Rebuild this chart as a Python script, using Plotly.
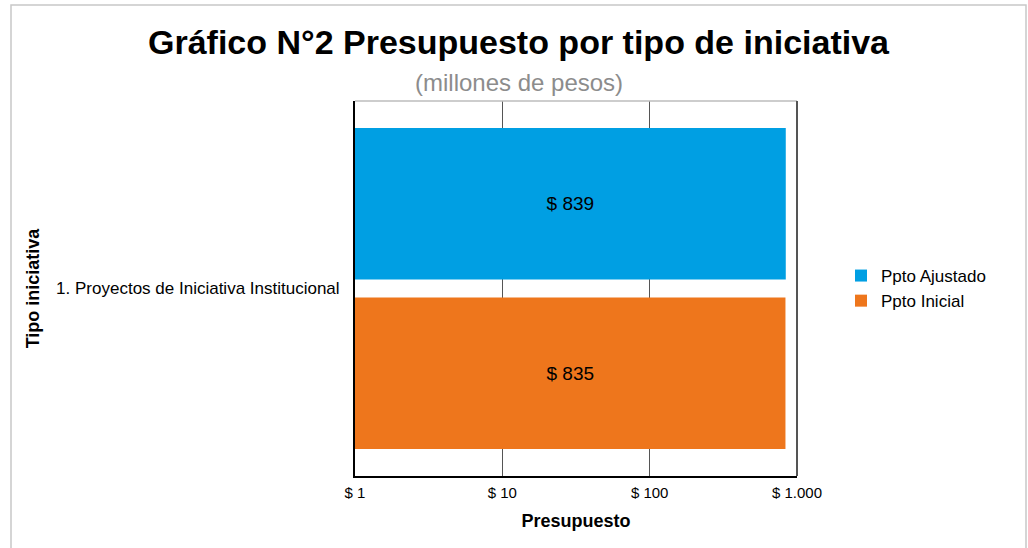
import plotly.graph_objects as go

# Data
categories = ["1. Proyectos de Iniciativa Institucional"]
series_names = ["Ppto Inicial", "Ppto Ajustado"]
ppto_inicial = [835]
ppto_ajustado = [839]
tick_vals = [1, 10, 100, 1000]
tick_text = ["$ 1", "$ 10", "$ 100", "$ 1.000"]

W, H = 1028, 548
ML, MR, MT, MB = 355, 231, 101, 72
pw = W - ML - MR
ph = H - MT - MB

colors = {"Ppto Inicial": "#EE761C", "Ppto Ajustado": "#009FE3"}
values = {"Ppto Inicial": ppto_inicial, "Ppto Ajustado": ppto_ajustado}

fig = go.Figure()
for name in series_names:
    fig.add_trace(go.Bar(
        y=categories, x=values[name], name=name, orientation="h",
        marker=dict(color=colors[name], line=dict(width=0)),
        text=["$ %d" % v for v in values[name]],
        textposition="inside", insidetextanchor="middle",
        textfont=dict(color="#000000", size=19, family="Liberation Sans, Arial"),
        hoverinfo="skip",
    ))

def px_x(px):
    return (px - ML) / pw

def px_y(py):
    return (H - MB - py) / ph

fig.update_layout(
    width=W, height=H,
    margin=dict(l=ML, r=MR, t=MT, b=MB, autoexpand=False),
    paper_bgcolor="white", plot_bgcolor="white",
    font=dict(family="Liberation Sans, Arial", color="#000000"),
    barmode="group", bargap=0.096, bargroupgap=0.106,
    showlegend=True,
    legend=dict(traceorder="reversed", x=px_x(841), xanchor="left",
                y=0.5, yanchor="middle", font=dict(size=17),
                bgcolor="rgba(0,0,0,0)", itemwidth=30, tracegroupgap=0),
    xaxis=dict(type="log", range=[0, 3], tickvals=tick_vals, ticktext=tick_text,
               showgrid=True, gridcolor="#555555", gridwidth=1,
               showline=True, linecolor="#000000", linewidth=2,
               ticks="", tickfont=dict(size=15), ticklabelstandoff=2,
               title=dict(text="<b>Presupuesto</b>", font=dict(size=18), standoff=14),
               zeroline=False, fixedrange=True),
    yaxis=dict(showgrid=False, showline=True, linecolor="#000000", linewidth=2,
               ticks="", tickfont=dict(size=17), ticklabelstandoff=10,
               title=dict(text="<b>Tipo iniciativa</b>", font=dict(size=18), standoff=12),
               fixedrange=True),
    annotations=[
        dict(text="<b>Gráfico N°2 Presupuesto por tipo de iniciativa</b>",
             xref="paper", yref="paper", x=px_x(519), y=px_y(42),
             xanchor="center", yanchor="middle", showarrow=False,
             font=dict(size=34, color="#000000")),
        dict(text="(millones de pesos)",
             xref="paper", yref="paper", x=px_x(519), y=px_y(82),
             xanchor="center", yanchor="middle", showarrow=False,
             font=dict(size=24, color="#8C8C8C")),
    ],
    shapes=[
        dict(type="line", xref="paper", yref="paper", x0=0, x1=1, y0=1, y1=1,
             line=dict(color="#BDBDBD", width=1.5)),
        dict(type="line", xref="paper", yref="paper", x0=1, x1=1, y0=0, y1=1,
             line=dict(color="#555555", width=2)),
        dict(type="rect", xref="paper", yref="paper",
             x0=px_x(11), x1=px_x(1026), y0=px_y(560), y1=px_y(5),
             line=dict(color="#C8C8C8", width=1.5), fillcolor="rgba(0,0,0,0)",
             layer="below"),
    ],
)

fig.write_html("out.html", config={"displayModeBar": False},
               post_script="document.body.style.margin='0';document.body.style.overflow='hidden';")
